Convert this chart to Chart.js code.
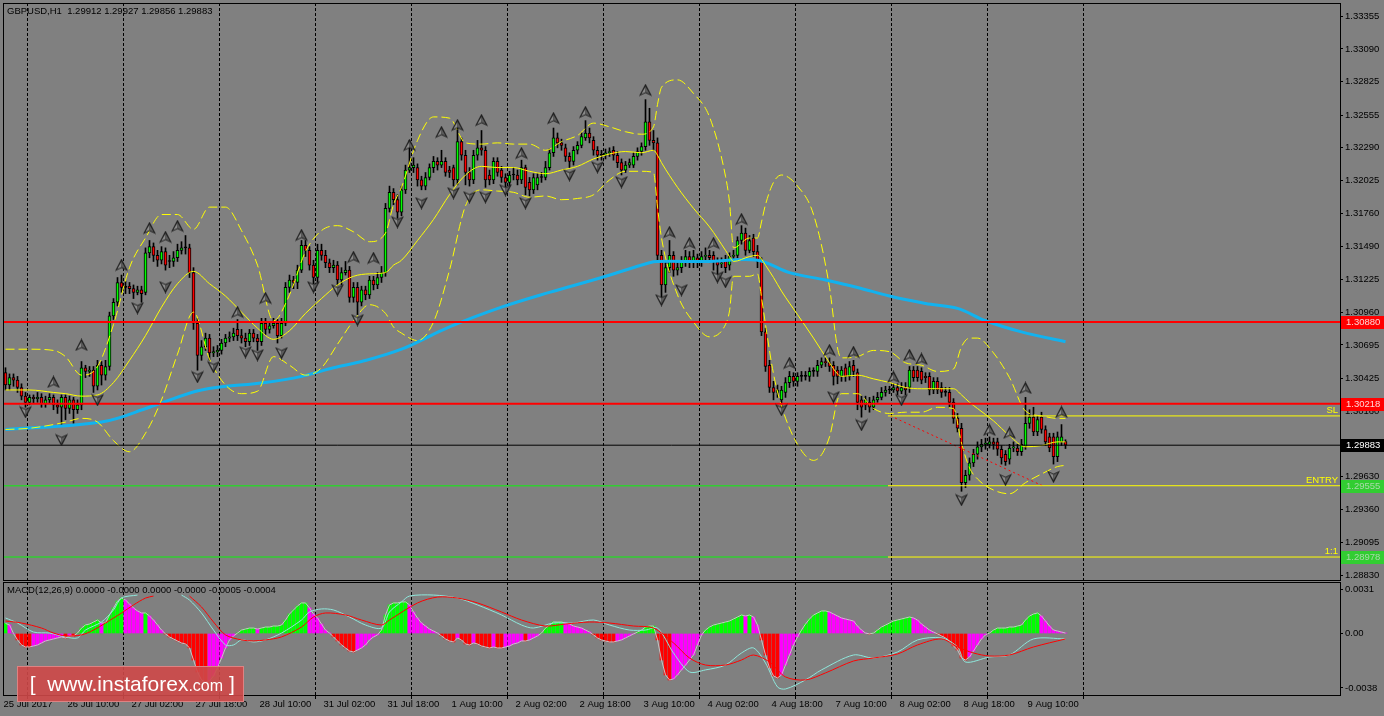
<!DOCTYPE html>
<html>
<head>
<meta charset="utf-8">
<title>GBPUSD H1</title>
<script src="https://cdn.jsdelivr.net/npm/chart.js@4.4.1/dist/chart.umd.min.js"></script>
<style>
  body { margin: 0; background: #808080; }
  #page { position: relative; width: 1384px; height: 716px; background: #808080; overflow: hidden; }
  canvas { position: absolute; left: 0; top: 0; }
  .txt { position: absolute; font-family: 'Liberation Sans', sans-serif; font-size: 9.5px; color: #000; white-space: pre; }
  #brand { position: absolute; left: 17px; top: 666px; width: 225px; height: 34px; background: rgba(206, 72, 72, 0.9); border: 1px solid #de8282; color: #fff; font-family: 'Liberation Sans', sans-serif; font-size: 21px; line-height: 34px; white-space: pre; }
  #brand small { font-size: 16px; }
</style>
</head>
<body>
<div id="page">
  <canvas id="price" width="1384" height="716"></canvas>
  <canvas id="macd" width="1384" height="716"></canvas>
  <div class="txt" style="left:7px;top:5px">GBPUSD,H1  1.29912 1.29927 1.29856 1.29883</div>
  <div class="txt" style="left:7px;top:584px">MACD(12,26,9) 0.0000 -0.0000 0.0000 -0.0000 -0.0005 -0.0004</div>
  <div id="brand">  [  www.instaforex<small>.com</small> ]</div>
</div>
<script>
const FONT = "'Liberation Sans', sans-serif";
const FONT_SIZE = 9.5;

const timeLabels = ['25 Jul 2017', '26 Jul 10:00', '27 Jul 02:00', '27 Jul 18:00', '28 Jul 10:00', '31 Jul 02:00',
  '31 Jul 18:00', '1 Aug 10:00', '2 Aug 02:00', '2 Aug 18:00', '3 Aug 10:00', '4 Aug 02:00', '4 Aug 18:00',
  '7 Aug 10:00', '8 Aug 02:00', '8 Aug 18:00', '9 Aug 10:00'];
const yTicks = [1.33355, 1.3309, 1.32825, 1.32555, 1.3229, 1.32025, 1.3176, 1.3149, 1.31225, 1.3096,
  1.30695, 1.30425, 1.3016, 1.2963, 1.2936, 1.29095, 1.2883];
const macdTicks = [0.0031, 0, -0.0038];

// H1 candles, 25 Jul 18:00 .. 9 Aug 19:00
const opens = [1.3047,1.3037,1.3043,1.3041,1.3035,1.3028,1.3023,1.3027,1.3026,1.3027,
1.3022,1.3025,1.3027,1.3021,1.3019,1.3027,1.3018,1.3025,1.3017,1.3021,
1.3051,1.3048,1.3049,1.3036,1.3053,1.3045,1.3052,1.3093,1.3104,1.3120,
1.3116,1.3117,1.3115,1.3112,1.3114,1.3112,1.3144,1.3149,1.3142,1.3138,
1.3145,1.3137,1.3137,1.3140,1.3146,1.3148,1.3148,1.3128,1.3087,1.3061,
1.3068,1.3075,1.3063,1.3064,1.3065,1.3071,1.3075,1.3076,1.3082,1.3077,
1.3075,1.3072,1.3079,1.3075,1.3072,1.3087,1.3082,1.3085,1.3087,1.3077,
1.3087,1.3116,1.3122,1.3120,1.3130,1.3150,1.3146,1.3134,1.3124,1.3146,
1.3142,1.3136,1.3132,1.3134,1.3122,1.3128,1.3130,1.3108,1.3116,1.3104,
1.3114,1.3110,1.3122,1.3118,1.3124,1.3128,1.3180,1.3193,1.3187,1.3177,
1.3195,1.3211,1.3213,1.3213,1.3203,1.3198,1.3205,1.3213,1.3218,1.3215,
1.3218,1.3211,1.3213,1.3203,1.3234,1.3223,1.3209,1.3203,1.3223,1.3229,
1.3227,1.3207,1.3203,1.3218,1.3211,1.3205,1.3201,1.3207,1.3207,1.3203,
1.3213,1.3201,1.3195,1.3199,1.3205,1.3205,1.3213,1.3225,1.3237,1.3233,
1.3229,1.3222,1.3218,1.3227,1.3231,1.3237,1.3241,1.3235,1.3227,1.3223,
1.3223,1.3225,1.3227,1.3223,1.3217,1.3211,1.3215,1.3215,1.3222,1.3226,
1.3230,1.3250,1.3235,1.3233,1.3142,1.3118,1.3132,1.3142,1.3130,1.3132,
1.3137,1.3141,1.3137,1.3140,1.3137,1.3141,1.3142,1.3142,1.3137,1.3135,
1.3138,1.3134,1.3141,1.3142,1.3154,1.3160,1.3146,1.3156,1.3145,1.3137,
1.3080,1.3053,1.3035,1.3031,1.3025,1.3031,1.3039,1.3044,1.3040,1.3044,
1.3044,1.3044,1.3048,1.3048,1.3053,1.3056,1.3055,1.3053,1.3049,1.3044,
1.3051,1.3044,1.3053,1.3047,1.3025,1.3021,1.3023,1.3019,1.3025,1.3027,
1.3031,1.3033,1.3033,1.3035,1.3032,1.3035,1.3035,1.3049,1.3049,1.3048,
1.3044,1.3044,1.3033,1.3040,1.3035,1.3031,1.3031,1.3023,1.3010,1.3002,
1.2958,1.2964,1.2974,1.2981,1.2987,1.2989,1.2989,1.2991,1.2991,1.2985,
1.2981,1.2977,1.2986,1.2986,1.2983,1.2987,1.3006,1.3011,1.2999,1.3011,
1.3001,1.2995,1.2995,1.2979,1.2991,1.29912];
const highs = [1.3051,1.3046,1.3046,1.3044,1.3038,1.3031,1.3029,1.3029,1.3031,1.3030,
1.3028,1.3030,1.3029,1.3025,1.3029,1.3029,1.3028,1.3027,1.3025,1.3056,
1.3053,1.3052,1.3052,1.3057,1.3056,1.3057,1.3096,1.3107,1.3124,1.3126,
1.3121,1.3120,1.3118,1.3117,1.3117,1.3148,1.3154,1.3152,1.3146,1.3149,
1.3148,1.3142,1.3145,1.3151,1.3153,1.3158,1.3151,1.3132,1.3091,1.3073,
1.3079,1.3078,1.3068,1.3069,1.3074,1.3078,1.3080,1.3083,1.3090,1.3082,
1.3079,1.3082,1.3082,1.3078,1.3091,1.3091,1.3088,1.3091,1.3090,1.3091,
1.3120,1.3126,1.3125,1.3134,1.3154,1.3154,1.3149,1.3138,1.3151,1.3151,
1.3146,1.3139,1.3138,1.3137,1.3132,1.3137,1.3133,1.3120,1.3120,1.3117,
1.3117,1.3125,1.3125,1.3128,1.3133,1.3184,1.3198,1.3196,1.3191,1.3198,
1.3215,1.3235,1.3221,1.3216,1.3206,1.3209,1.3216,1.3222,1.3221,1.3227,
1.3221,1.3214,1.3215,1.3250,1.3237,1.3227,1.3213,1.3227,1.3235,1.3243,
1.3230,1.3211,1.3221,1.3221,1.3214,1.3208,1.3210,1.3213,1.3211,1.3219,
1.3215,1.3205,1.3208,1.3208,1.3209,1.3218,1.3228,1.3245,1.3241,1.3236,
1.3232,1.3225,1.3230,1.3234,1.3241,1.3251,1.3245,1.3238,1.3230,1.3227,
1.3228,1.3229,1.3230,1.3226,1.3220,1.3218,1.3220,1.3225,1.3229,1.3233,
1.3268,1.3261,1.3243,1.3237,1.3146,1.3137,1.3154,1.3145,1.3136,1.3141,
1.3146,1.3145,1.3146,1.3143,1.3145,1.3148,1.3146,1.3145,1.3140,1.3140,
1.3142,1.3144,1.3146,1.3157,1.3166,1.3164,1.3158,1.3159,1.3150,1.3140,
1.3083,1.3057,1.3040,1.3037,1.3036,1.3043,1.3048,1.3047,1.3047,1.3048,
1.3048,1.3051,1.3051,1.3057,1.3059,1.3059,1.3059,1.3056,1.3052,1.3052,
1.3054,1.3056,1.3057,1.3050,1.3028,1.3028,1.3027,1.3028,1.3031,1.3035,
1.3036,1.3036,1.3038,1.3038,1.3039,1.3039,1.3052,1.3052,1.3052,1.3051,
1.3047,1.3047,1.3043,1.3043,1.3039,1.3035,1.3035,1.3026,1.3014,1.3006,
1.2968,1.2978,1.2985,1.2991,1.2993,1.2994,1.2995,1.2994,1.2994,1.2988,
1.2984,1.2989,1.2991,1.2989,1.2993,1.3027,1.3017,1.3019,1.3012,1.3015,
1.3004,1.2998,1.2998,1.2999,1.3005,1.29927];
const lows = [1.3033,1.3033,1.3036,1.3031,1.3025,1.3019,1.3021,1.3022,1.3023,1.3019,
1.3019,1.3022,1.3017,1.3014,1.3005,1.3009,1.3014,1.3006,1.3014,1.3017,
1.3043,1.3044,1.3031,1.3033,1.3037,1.3041,1.3049,1.3090,1.3101,1.3112,
1.3111,1.3111,1.3107,1.3110,1.3104,1.3110,1.3140,1.3137,1.3133,1.3135,
1.3130,1.3132,1.3133,1.3137,1.3143,1.3143,1.3124,1.3082,1.3049,1.3057,
1.3065,1.3057,1.3060,1.3060,1.3062,1.3068,1.3072,1.3073,1.3073,1.3071,
1.3068,1.3069,1.3072,1.3065,1.3069,1.3078,1.3079,1.3083,1.3071,1.3075,
1.3085,1.3112,1.3115,1.3115,1.3128,1.3141,1.3130,1.3119,1.3120,1.3138,
1.3132,1.3128,1.3128,1.3118,1.3118,1.3126,1.3104,1.3104,1.3094,1.3101,
1.3106,1.3107,1.3114,1.3115,1.3120,1.3125,1.3177,1.3183,1.3172,1.3174,
1.3192,1.3209,1.3209,1.3198,1.3195,1.3195,1.3203,1.3209,1.3211,1.3213,
1.3206,1.3205,1.3198,1.3199,1.3219,1.3199,1.3198,1.3200,1.3219,1.3223,
1.3197,1.3199,1.3200,1.3206,1.3201,1.3197,1.3198,1.3203,1.3199,1.3200,
1.3191,1.3190,1.3192,1.3195,1.3201,1.3203,1.3211,1.3222,1.3229,1.3227,
1.3218,1.3213,1.3215,1.3224,1.3229,1.3235,1.3233,1.3223,1.3219,1.3219,
1.3220,1.3222,1.3219,1.3213,1.3207,1.3209,1.3213,1.3213,1.3219,1.3223,
1.3227,1.3231,1.3227,1.3137,1.3106,1.3112,1.3128,1.3125,1.3126,1.3128,
1.3133,1.3132,1.3132,1.3132,1.3133,1.3138,1.3136,1.3130,1.3126,1.3132,
1.3128,1.3130,1.3138,1.3140,1.3151,1.3142,1.3144,1.3141,1.3132,1.3077,
1.3048,1.3031,1.3025,1.3027,1.3017,1.3027,1.3035,1.3036,1.3036,1.3040,
1.3041,1.3040,1.3044,1.3044,1.3051,1.3052,1.3048,1.3037,1.3038,1.3040,
1.3040,1.3041,1.3044,1.3017,1.3011,1.3017,1.3015,1.3017,1.3023,1.3025,
1.3028,1.3030,1.3031,1.3029,1.3030,1.3029,1.3031,1.3040,1.3040,1.3038,
1.3039,1.3029,1.3030,1.3030,1.3027,1.3028,1.3019,1.3006,1.2999,1.2951,
1.2954,1.2960,1.2971,1.2977,1.2983,1.2985,1.2986,1.2985,1.2980,1.2973,
1.2972,1.2973,1.2983,1.2980,1.2980,1.2985,1.3002,1.2996,1.2996,1.2998,
1.2988,1.2983,1.2973,1.2975,1.2988,1.29856];
const closes = [1.3037,1.3043,1.3041,1.3035,1.3028,1.3023,1.3027,1.3026,1.3027,1.3022,
1.3025,1.3027,1.3021,1.3019,1.3027,1.3018,1.3025,1.3017,1.3021,1.3051,
1.3048,1.3049,1.3036,1.3053,1.3045,1.3052,1.3093,1.3104,1.3120,1.3116,
1.3116,1.3115,1.3112,1.3114,1.3111,1.3144,1.3149,1.3142,1.3138,1.3145,
1.3134,1.3137,1.3140,1.3146,1.3148,1.3148,1.3128,1.3087,1.3061,1.3068,
1.3075,1.3063,1.3064,1.3065,1.3071,1.3075,1.3076,1.3079,1.3077,1.3075,
1.3072,1.3079,1.3075,1.3072,1.3087,1.3082,1.3085,1.3087,1.3077,1.3087,
1.3116,1.3122,1.3120,1.3130,1.3150,1.3146,1.3134,1.3124,1.3146,1.3142,
1.3136,1.3132,1.3134,1.3122,1.3128,1.3130,1.3108,1.3116,1.3104,1.3114,
1.3110,1.3122,1.3118,1.3124,1.3128,1.3180,1.3193,1.3187,1.3177,1.3195,
1.3211,1.3213,1.3215,1.3203,1.3198,1.3205,1.3213,1.3218,1.3215,1.3218,
1.3209,1.3209,1.3203,1.3234,1.3223,1.3209,1.3203,1.3223,1.3229,1.3227,
1.3203,1.3203,1.3218,1.3209,1.3205,1.3201,1.3207,1.3207,1.3203,1.3213,
1.3197,1.3195,1.3205,1.3205,1.3205,1.3213,1.3225,1.3237,1.3233,1.3231,
1.3222,1.3218,1.3227,1.3231,1.3238,1.3241,1.3237,1.3227,1.3223,1.3223,
1.3225,1.3226,1.3223,1.3217,1.3211,1.3215,1.3217,1.3222,1.3226,1.3230,
1.3250,1.3235,1.3233,1.3142,1.3118,1.3132,1.3142,1.3130,1.3132,1.3137,
1.3141,1.3137,1.3141,1.3137,1.3141,1.3142,1.3140,1.3137,1.3134,1.3136,
1.3132,1.3141,1.3142,1.3154,1.3160,1.3146,1.3154,1.3145,1.3137,1.3080,
1.3052,1.3035,1.3031,1.3033,1.3033,1.3039,1.3044,1.3040,1.3044,1.3044,
1.3044,1.3048,1.3048,1.3053,1.3056,1.3055,1.3052,1.3044,1.3044,1.3049,
1.3044,1.3052,1.3048,1.3023,1.3019,1.3025,1.3019,1.3025,1.3027,1.3031,
1.3033,1.3033,1.3035,1.3032,1.3035,1.3033,1.3049,1.3043,1.3043,1.3041,
1.3043,1.3033,1.3040,1.3033,1.3031,1.3031,1.3023,1.3010,1.3002,1.2958,
1.2964,1.2974,1.2981,1.2987,1.2989,1.2990,1.2991,1.2989,1.2985,1.2978,
1.2975,1.2986,1.2987,1.2983,1.2989,1.3006,1.3011,1.2999,1.3009,1.3001,
1.2991,1.2986,1.2979,1.2995,1.2995,1.29883];

// 200 MA (blue), read at sample bars
const maBars = [0, 24, 36, 49, 65, 74, 82, 89, 99, 111, 124, 136, 149, 161, 163, 175, 188, 196, 205, 213, 221, 230, 238, 245, 254, 265];
const maValues = [1.3001, 1.3007, 1.3019, 1.3033, 1.3039, 1.3044, 1.3051, 1.3056, 1.3066, 1.3084, 1.3100, 1.3112, 1.3124,
  1.3136, 1.3137, 1.3137, 1.3138, 1.3128, 1.3122, 1.3116, 1.3109, 1.3103, 1.3099, 1.3089, 1.3080, 1.3072];

// yellow bands, read at sample bars
const bandBars = [0,6,12,15,19,23,27,31,35,39,43,47,51,55,59,63,67,71,75,79,83,87,91,95,97,99,103,107,111,115,
  119,123,127,131,135,139,143,147,151,155,159,162,163,164,168,172,176,180,181,182,186,188,189,190,192,194,198,202,
  206,208,209,213,217,221,225,229,233,237,239,241,243,247,251,255,259,263,265];
const bandUpper = [1.3066,1.3066,1.3065,1.3060,1.3045,1.3052,1.3086,1.3132,1.3156,1.3175,1.3175,1.3163,1.3181,1.3181,
  1.3162,1.3134,1.3089,1.3110,1.3145,1.3162,1.3166,1.3161,1.3153,1.3160,1.3183,1.3197,1.3235,1.3254,1.3253,1.3233,
  1.3232,1.3233,1.3232,1.3232,1.3227,1.3234,1.3239,1.3249,1.3246,1.3242,1.3240,1.3246,1.3264,1.3278,1.3284,1.3273,
  1.3254,1.3206,1.3185,1.3148,1.3156,1.3156,1.3169,1.3183,1.3201,1.3207,1.3198,1.3175,1.3116,1.3067,1.3059,1.3060,
  1.3065,1.3064,1.3055,1.3053,1.3048,1.3050,1.3068,1.3075,1.3075,1.3063,1.3043,1.3016,1.3012,1.3010,1.3010];
const bandMiddle = [1.3033,1.3033,1.3031,1.3030,1.3028,1.3029,1.3039,1.3057,1.3077,1.3100,1.3119,1.3129,1.3119,1.3109,
  1.3096,1.3083,1.3074,1.3081,1.3095,1.3107,1.3118,1.3125,1.3127,1.3128,1.3134,1.3138,1.3154,1.3171,1.3191,1.3207,
  1.3214,1.3213,1.3213,1.3210,1.3208,1.3211,1.3214,1.3220,1.3224,1.3226,1.3225,1.3227,1.3223,1.3217,1.3197,1.3180,
  1.3165,1.3146,1.3141,1.3137,1.3141,1.3142,1.3139,1.3134,1.3124,1.3113,1.3094,1.3075,1.3055,1.3046,1.3044,1.3045,
  1.3042,1.3039,1.3035,1.3034,1.3034,1.3034,1.3029,1.3023,1.3018,1.3008,1.2996,1.2987,1.2988,1.2991,1.2991];
const bandLower = [1.3001,1.3002,1.3005,1.3007,1.3010,1.3007,1.2992,1.2983,1.2998,1.3025,1.3062,1.3096,1.3058,1.3037,
  1.3030,1.3032,1.3060,1.3053,1.3045,1.3051,1.3070,1.3089,1.3102,1.3095,1.3084,1.3079,1.3073,1.3088,1.3130,1.3182,
  1.3195,1.3194,1.3193,1.3189,1.3190,1.3187,1.3188,1.3191,1.3203,1.3210,1.3210,1.3209,1.3181,1.3156,1.3110,1.3088,
  1.3076,1.3086,1.3097,1.3125,1.3125,1.3127,1.3108,1.3086,1.3046,1.3020,1.2989,1.2976,1.2995,1.3025,1.3030,1.3030,
  1.3018,1.3014,1.3015,1.3015,1.3019,1.3018,1.2990,1.2970,1.2961,1.2952,1.2949,1.2958,1.2965,1.2971,1.2972];

// fractals
const fractalUpBars = [12, 19, 29, 36, 40, 43, 58, 65, 74, 87, 92, 101, 109, 113, 119, 129, 137, 145, 160, 166, 171, 177,
  184, 196, 206, 212, 222, 226, 229, 246, 251, 255, 264];
const fractalUpPrices = [1.30395, 1.30694, 1.31341, 1.3164, 1.31568, 1.31657, 1.30961, 1.31074, 1.31584, 1.31406, 1.31398,
  1.32312, 1.32417, 1.32474, 1.32514, 1.32247, 1.3253, 1.32579, 1.32757, 1.31608, 1.31519, 1.31519, 1.31713, 1.30548,
  1.30653, 1.30637, 1.30435, 1.30613, 1.30581, 1.30007, 1.29983, 1.30346, 1.30152];
const fractalDownBars = [5, 14, 23, 33, 40, 48, 52, 60, 63, 69, 77, 83, 88, 98, 104, 112, 116, 120, 125, 130, 141, 148, 154,
  164, 169, 178, 180, 194, 207, 214, 224, 239, 250, 262];
const fractalDownPrices = [1.30152, 1.29926, 1.30249, 1.30993, 1.31163, 1.30435, 1.30516, 1.30637, 1.30613, 1.30629,
  1.31163, 1.31139, 1.30896, 1.31689, 1.31843, 1.31924, 1.31891, 1.31891, 1.31948, 1.31843, 1.32069, 1.32134, 1.32013,
  1.31058, 1.31139, 1.31244, 1.31204, 1.30168, 1.30273, 1.30047, 1.30249, 1.2944, 1.29603, 1.29628];

// levels
const redLevels = [1.3088, 1.30218];
const bidLevel = 1.29883;
const slLevel = 1.3012;
const entryLevel = 1.29555;
const targetLevel = 1.28978;
const orderStartBar = 220.6;
const trendBars = [221.25, 259.25];
const trendPrices = [1.3012, 1.29555];

// MACD(12,26,9)
const histogram = [0.0007,0.0006,0,-0.00045,-0.0008,-0.00094,-0.00094,-0.00087,-0.0008,-0.00066,
-0.00052,-0.00045,-0.00038,-0.00031,-0.00024,-0.00031,-0.00017,-0.00017,0.00003,0.00038,
0.0006,0.00066,0.0008,0.00094,0.00073,0.00073,0.00129,0.00178,0.00226,0.00247,
0.00233,0.00206,0.00178,0.00157,0.00143,0.00143,0.00122,0.00094,0.0006,0.00024,
-0.00003,-0.00024,-0.00038,-0.00052,-0.00066,-0.00073,-0.001,-0.00185,-0.00268,-0.00324,
-0.00338,-0.00331,-0.00296,-0.0024,-0.00171,-0.00101,-0.00045,-0.00017,0.00003,0.00024,
0.00031,0.00038,0.00038,0.00031,0.00038,0.00045,0.00045,0.00052,0.00052,0.00059,
0.00094,0.00136,0.00164,0.00192,0.00213,0.00213,0.00178,0.00136,0.00108,0.00066,
0.00024,0.00003,-0.00024,-0.00052,-0.0008,-0.00101,-0.00122,-0.00129,-0.00115,-0.00101,
-0.0008,-0.00045,-0.00024,-0.0001,0.00024,0.00129,0.00199,0.00213,0.00213,0.0022,
0.0022,0.00199,0.0015,0.00108,0.00073,0.00052,0.00031,0.00017,0.00003,-0.00017,
-0.00038,-0.00052,-0.00059,-0.00031,-0.00045,-0.00073,-0.0008,-0.00066,-0.00073,-0.00087,
-0.00094,-0.00101,-0.00094,-0.00101,-0.00101,-0.00094,-0.00087,-0.00073,-0.00066,-0.00052,
-0.00052,-0.00045,-0.00031,-0.00017,0.00003,0.00038,0.00059,0.0008,0.0008,0.0008,
0.00073,0.00066,0.00052,0.00045,0.00038,0.00024,0.0001,-0.0001,-0.00031,-0.00045,
-0.00052,-0.00059,-0.00059,-0.00052,-0.00045,-0.00031,-0.00017,-0.00003,0.0001,0.00024,
0.00045,0.00052,0.00052,-0.00045,-0.00185,-0.00289,-0.00324,-0.00317,-0.00289,-0.00254,
-0.0022,-0.00185,-0.0015,-0.0008,-0.0001,0.00024,0.00045,0.00059,0.00066,0.00073,
0.0008,0.00087,0.00101,0.00115,0.00129,0.00122,0.00129,0.00115,0.00059,-0.00045,
-0.0015,-0.0024,-0.00296,-0.0031,-0.00289,-0.0022,-0.0015,-0.0008,-0.00024,0.00024,
0.00066,0.00101,0.00129,0.00143,0.00157,0.00157,0.0015,0.00136,0.00122,0.00108,
0.00101,0.00094,0.00087,0.00052,0.00024,0.00003,-0.00003,0.00003,0.00024,0.00045,
0.00059,0.00073,0.00087,0.00094,0.00101,0.00108,0.00115,0.00108,0.00094,0.00066,
0.00045,0.00024,0.0001,-0.00003,-0.00017,-0.00031,-0.00052,-0.00087,-0.00115,-0.00171,
-0.00185,-0.00164,-0.00122,-0.0008,-0.00038,-0.0001,0.00003,0.00024,0.00038,0.00038,
0.00038,0.00045,0.00045,0.00052,0.00059,0.00094,0.00122,0.00136,0.00143,0.00122,
0.00087,0.00052,0.00024,0.00017,0.0001,0.00003];
const macdBars = [0,3,7,11,15,18,20,24,27,29,33,34,44,46,49,52,55,57,59,62,65,69,74,76,79,82,86,90,94,96,
  99,101,107,113,118,124,129,132,137,142,147,151,156,160,163,167,171,175,180,184,187,190,193,195,200,204,
  212,217,223,228,234,238,240,246,251,257,265];
const macdMain = [0.00108,0.00073,0.0001,0.00003,-0.00024,-0.00031,0.00024,0.0008,0.00164,0.00247,
  0.00268,null,0.00268,0.00233,0.00143,0.00024,-0.0008,-0.0008,-0.00045,-0.00059,
  -0.00045,0.00003,0.00094,0.0015,0.00171,0.00164,0.00115,0.00059,0.00038,0.0015,
  0.0022,0.00261,0.00268,0.00247,0.00199,0.00129,0.00059,0.00038,0.00073,0.00073,
  0.00094,0.00059,0.00024,0.00024,0.00038,-0.00136,-0.00268,-0.00254,-0.0022,-0.00136,
  -0.00101,-0.00206,-0.00373,-0.00387,-0.00324,-0.00254,-0.0015,-0.00171,-0.00129,-0.00045,
  -0.00031,-0.00094,-0.00199,-0.00164,-0.0015,-0.00038,-0.00038];
const signalBars = [0,4,9,12,15,19,22,25,29,32,35,37,38,46,49,52,55,59,62,65,69,74,77,80,85,89,94,96,103,108,
  113,118,124,129,135,140,146,151,157,162,167,171,175,180,184,187,191,195,200,205,212,217,223,228,234,238,
  242,246,251,257,265];
const signalValues = [0.00087,0.00073,0.00038,0.00003,-0.00017,-0.0001,0.00024,0.00073,0.00143,0.00199,
  0.00247,0.00261,null,0.00261,0.00185,0.0008,-0.0001,-0.00045,-0.00052,-0.00045,
  -0.00024,0.00045,0.00115,0.00143,0.00129,0.00094,0.00059,0.00094,0.00213,0.00254,
  0.00247,0.00213,0.0015,0.00094,0.00052,0.00066,0.0008,0.00073,0.00052,0.00038,
  -0.00066,-0.00171,-0.0022,-0.0022,-0.00185,-0.0015,-0.00199,-0.00303,-0.00324,-0.00275,
  -0.00192,-0.00171,-0.00143,-0.0008,-0.00038,-0.00094,-0.00136,-0.00157,-0.0015,-0.00094,
  -0.00038];

// ---- layout helpers ----
const xMin = -0.625, xMax = 333.625;   // 4 px per bar
const idx = opens.map((o, i) => i);
const pts = (xs, ys) => xs.map((x, k) => ({ x: x, y: ys[k] }));
const hline = (y, x0, x1) => [{ x: x0 === undefined ? xMin : x0, y: y }, { x: x1 === undefined ? xMax : x1, y: y }];
const flat = (color, width) => ({ type: 'line', borderColor: color, borderWidth: width, pointRadius: 0, order: 1 });
const band = (ys, dash) => ({ type: 'line', data: pts(bandBars, ys), borderColor: '#ffff00', borderWidth: 1,
  borderDash: dash, pointRadius: 0, cubicInterpolationMode: 'monotone', order: 2 });
const noPad = s => { s.paddingTop = 0; s.paddingBottom = 0; };

function makeGlyph(up) {
  const c = document.createElement('canvas');
  c.width = 13; c.height = 13;
  const g = c.getContext('2d');
  if (!up) { g.translate(0, 13); g.scale(1, -1); }
  g.fillStyle = '#1e1e1e';
  g.beginPath(); g.moveTo(6.5, 0); g.lineTo(13, 12.5); g.lineTo(6.5, 9.5); g.lineTo(0, 12.5); g.closePath(); g.fill();
  g.fillStyle = '#8c8c8c';
  g.beginPath(); g.moveTo(6.5, 3); g.lineTo(6.5, 8.5); g.lineTo(2.2, 10.6); g.closePath(); g.fill();
  g.fillStyle = '#5c5c5c';
  g.beginPath(); g.moveTo(6.5, 3); g.lineTo(10.8, 10.6); g.lineTo(6.5, 8.5); g.closePath(); g.fill();
  return c;
}

// dashed day grid + frame
function panelDecor(tickMarks) {
  return {
    id: 'panelDecor',
    beforeDatasetsDraw(chart) {
      const { ctx, chartArea: a, scales: { x } } = chart;
      ctx.save();
      ctx.strokeStyle = '#000';
      ctx.lineWidth = 1;
      ctx.setLineDash([3, 2]);
      for (let k = 0; k < 12; k++) {
        const px = Math.floor(x.getPixelForValue(5.5 + 24 * k)) + 0.5;
        ctx.beginPath(); ctx.moveTo(px, a.top); ctx.lineTo(px, a.bottom); ctx.stroke();
      }
      ctx.restore();
    },
    afterDraw(chart) {
      const { ctx, chartArea: a, scales: { x } } = chart;
      ctx.save();
      ctx.strokeStyle = '#000';
      ctx.lineWidth = 1;
      ctx.strokeRect(a.left + 0.5, a.top + 0.5, a.right - a.left, a.bottom - a.top);
      if (tickMarks) {
        for (let k = 0; k < 12; k++) {
          const px = Math.floor(x.getPixelForValue(5.5 + 24 * k)) + 0.5;
          ctx.beginPath(); ctx.moveTo(px, a.bottom); ctx.lineTo(px, a.bottom + 4); ctx.stroke();
        }
      }
      ctx.restore();
    }
  };
}

// price tags on the right axis, order labels
const priceTags = {
  id: 'priceTags',
  afterDraw(chart) {
    const { ctx, chartArea: a, scales: { y } } = chart;
    const tag = (v, bg, fg) => {
      const py = Math.round(y.getPixelForValue(v));
      ctx.fillStyle = bg;
      ctx.fillRect(a.right + 1, py - 6, 43, 13);
      ctx.fillStyle = fg;
      ctx.textBaseline = 'middle';
      ctx.textAlign = 'left';
      ctx.fillText(v.toFixed(5), a.right + 6, py + 0.5);
    };
    ctx.save();
    ctx.font = FONT_SIZE + 'px ' + FONT;
    tag(redLevels[0], '#ff0000', '#ffd6d6');
    tag(redLevels[1], '#ff0000', '#ffd6d6');
    tag(bidLevel, '#000000', '#ffffff');
    tag(entryLevel, '#32cd32', '#a9d8a9');
    tag(targetLevel, '#32cd32', '#a9d8a9');
    ctx.fillStyle = '#ffff00';
    ctx.textAlign = 'right';
    ctx.textBaseline = 'bottom';
    [['SL', slLevel], ['ENTRY', entryLevel], ['1:1', targetLevel]].forEach(([t, v]) => {
      ctx.fillText(t, a.right - 2, y.getPixelForValue(v) - 1);
    });
    ctx.restore();
  }
};

const xScale = { type: 'linear', min: xMin, max: xMax, offset: false };

new Chart(document.getElementById('price'), {
  type: 'bar',
  data: {
    datasets: [
      { type: 'bar', data: idx.map(i => ({ x: i, y: [opens[i], closes[i]] })),
        backgroundColor: idx.map(i => closes[i] > opens[i] ? '#00ff00' : (closes[i] < opens[i] ? '#ff0000' : '#000')),
        borderColor: '#000', borderWidth: 1, borderSkipped: false, barThickness: 3, minBarLength: 1, grouped: false, order: 5 },
      { type: 'bar', data: idx.map(i => ({ x: i, y: [lows[i], highs[i]] })),
        backgroundColor: '#000', barThickness: 1, grouped: false, order: 6 },
      band(bandUpper, [9, 4]),
      band(bandMiddle, []),
      band(bandLower, [9, 4]),
      { type: 'line', data: pts(maBars, maValues), borderColor: '#12b2ef', borderWidth: 3, pointRadius: 0, tension: 0.35, order: 3 },
      Object.assign(flat('#ff0000', 2), { data: hline(redLevels[0]) }),
      Object.assign(flat('#ff0000', 2), { data: hline(redLevels[1]) }),
      Object.assign(flat('#000000', 1), { data: hline(bidLevel) }),
      Object.assign(flat('#32cd32', 1.5), { data: hline(entryLevel, xMin, orderStartBar) }),
      Object.assign(flat('#ffff00', 1), { data: hline(entryLevel, orderStartBar, xMax) }),
      Object.assign(flat('#32cd32', 1.5), { data: hline(targetLevel, xMin, orderStartBar) }),
      Object.assign(flat('#ffff00', 1), { data: hline(targetLevel, orderStartBar, xMax) }),
      Object.assign(flat('#ffff00', 1), { data: hline(slLevel, orderStartBar, xMax) }),
      Object.assign(flat('#ff0000', 1), { data: pts(trendBars, trendPrices), borderDash: [2, 3] }),
      { type: 'line', showLine: false, data: pts(fractalUpBars, fractalUpPrices), pointStyle: makeGlyph(true), pointRadius: 6, order: 0 },
      { type: 'line', showLine: false, data: pts(fractalDownBars, fractalDownPrices), pointStyle: makeGlyph(false), pointRadius: 6, order: 0 }
    ]
  },
  options: {
    responsive: false, animation: false, devicePixelRatio: 1, events: [],
    layout: { autoPadding: false, padding: { left: 3, top: 3, right: 0, bottom: 136 } },
    plugins: { legend: { display: false }, tooltip: { enabled: false } },
    scales: {
      x: Object.assign({ display: false }, xScale),
      y: {
        position: 'right', min: 1.28792, max: 1.33462,
        afterFit: s => { s.width = 44; noPad(s); },
        afterBuildTicks: s => { s.ticks = yTicks.map(v => ({ value: v })); },
        grid: { drawOnChartArea: false, drawTicks: true, tickLength: 3, color: '#000' },
        border: { display: false },
        ticks: { color: '#000', padding: 2, font: { family: FONT, size: FONT_SIZE }, callback: v => v.toFixed(5) }
      }
    }
  },
  plugins: [panelDecor(false), priceTags]
});

const histColors = histogram.map((v, i) => {
  const prev = i ? histogram[i - 1] : v;
  if (v >= 0) return v >= prev ? '#00ff00' : '#ff00ff';
  return v <= prev ? '#ff0000' : '#ff00ff';
});

new Chart(document.getElementById('macd'), {
  type: 'bar',
  data: {
    datasets: [
      { type: 'bar', data: idx.map(i => ({ x: i, y: histogram[i] })), backgroundColor: histColors,
        barThickness: 3, grouped: false, order: 5 },
      { type: 'line', data: idx.map(i => ({ x: i, y: histogram[i] })), borderColor: '#c4c4c4', borderWidth: 1, pointRadius: 0, order: 3 },
      { type: 'line', data: pts(macdBars, macdMain), borderColor: '#8ee8dc', borderWidth: 1, pointRadius: 0, tension: 0.3, order: 2 },
      { type: 'line', data: pts(signalBars, signalValues), borderColor: '#ff0000', borderWidth: 1, pointRadius: 0, tension: 0.3, order: 1 }
    ]
  },
  options: {
    responsive: false, animation: false, devicePixelRatio: 1, events: [],
    layout: { autoPadding: false, padding: { left: 3, top: 582, right: 0, bottom: 0 } },
    plugins: { legend: { display: false }, tooltip: { enabled: false } },
    scales: {
      x: Object.assign({
        afterFit: s => { s.height = 21; },
        afterBuildTicks: s => { s.ticks = timeLabels.map((t, k) => ({ value: k * 16 })); },
        grid: { display: false, drawTicks: false },
        border: { display: false },
        ticks: { autoSkip: false, maxRotation: 0, align: 'start', labelOffset: -2, padding: 4, color: '#000',
          font: { family: FONT, size: FONT_SIZE }, callback: (v, k) => timeLabels[k] }
      }, xScale),
      y: {
        position: 'right', min: -0.00429, max: 0.00359,
        afterFit: s => { s.width = 44; noPad(s); },
        afterBuildTicks: s => { s.ticks = macdTicks.map(v => ({ value: v })); },
        grid: { drawOnChartArea: false, drawTicks: true, tickLength: 3, color: '#000' },
        border: { display: false },
        ticks: { color: '#000', padding: 2, font: { family: FONT, size: FONT_SIZE }, callback: v => v === 0 ? '0.00' : v.toFixed(4) }
      }
    }
  },
  plugins: [panelDecor(true)]
});
</script>
</body>
</html>
